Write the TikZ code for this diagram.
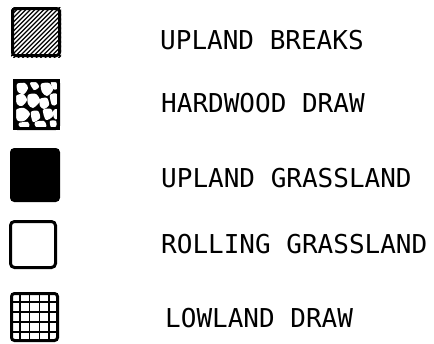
\documentclass[tikz,border=0pt]{standalone}
\usepackage{fontspec}
\newfontfamily\legfont{DejaVu Sans Mono}
\begin{document}
\begin{tikzpicture}[x=1pt,y=-1pt,
  legbox/.style={draw=black, line width=3pt, rounded corners=3pt, inner sep=0pt},
  legtext/.style={anchor=base west, inner sep=0pt, font=\legfont\fontsize{26}{30}\selectfont}]
\useasboundingbox (0,0) rectangle (434,343);
% hatch for box 1
\begin{scope}
  \clip (11,7) rectangle (61,57);
  \foreach \i in {-54,-49.5,...,60} \draw[line width=1.4pt] (\i,58) -- ++(52,-52);
\end{scope}
% camouflage for box 2
\fill[black] (13,79) rectangle (60,130);
\fill[white] plot[smooth cycle] coordinates {(17,84) (25,83) (28,88) (24,94) (18,92)};
\fill[white] plot[smooth cycle] coordinates {(30,83) (36,82) (39,87) (34,90)};
\fill[white] plot[smooth cycle] coordinates {(41,84) (49,83) (53,90) (47,96) (42,92)};
\fill[white] plot[smooth cycle] coordinates {(51,82) (57,82) (57,89) (53,89)};
\fill[white] plot[smooth cycle] coordinates {(16,96) (23,94) (27,100) (22,106) (17,104)};
\fill[white] plot[smooth cycle] coordinates {(28,95) (36,94) (40,101) (33,108) (28,104)};
\fill[white] plot[smooth cycle] coordinates {(40,99) (47,98) (49,105) (44,109) (40,106)};
\fill[white] plot[smooth cycle] coordinates {(50,95) (57,94) (57,104) (52,105)};
\fill[white] plot[smooth cycle] coordinates {(16,110) (24,108) (30,114) (24,121) (17,120)};
\fill[white] plot[smooth cycle] coordinates {(31,112) (38,111) (40,118) (33,122)};
\fill[white] plot[smooth cycle] coordinates {(43,110) (51,109) (53,116) (46,120)};
\fill[white] plot[smooth cycle] coordinates {(53,111) (57,109) (57,119) (54,118)};
\fill[white] plot[smooth cycle] coordinates {(19,123) (28,122) (29,127) (20,127)};
\fill[white] plot[smooth cycle] coordinates {(35,122) (44,121) (46,127) (36,127)};
\fill[white] plot[smooth cycle] coordinates {(50,121) (56,121) (56,127) (51,127)};
% grid for box 5
\foreach \gx in {19.8,29.6,39.4,49.2} \draw[line width=1.6pt] (\gx,292) -- (\gx,342);
\foreach \gy in {302,312,322,332} \draw[line width=1.6pt] (10,\gy) -- (59,\gy);
% boxes
\node[legbox, minimum width=47pt, minimum height=47pt] (b1) at (36,32) {};
\node[legbox, minimum width=44pt, minimum height=48pt] (b2) at (36.5,104.5) {};
\node[legbox, fill=black, minimum width=47pt, minimum height=51pt] (b3) at (35,175) {};
\node[legbox, rounded corners=4pt, minimum width=45pt, minimum height=46pt] (b4) at (33,244.5) {};
\node[legbox, minimum width=46pt, minimum height=47pt] (b5) at (34.5,317) {};
% labels
\node[legtext] (t1) at (160,49) {UPLAND BREAKS};
\node[legtext] (t2) at (161,112) {HARDWOOD DRAW};
\node[legtext] (t3) at (161,187) {UPLAND GRASSLAND};
\node[legtext] (t4) at (161,253) {ROLLING GRASSLAND};
\node[legtext] (t5) at (165,327) {LOWLAND DRAW};
\end{tikzpicture}
\end{document}
